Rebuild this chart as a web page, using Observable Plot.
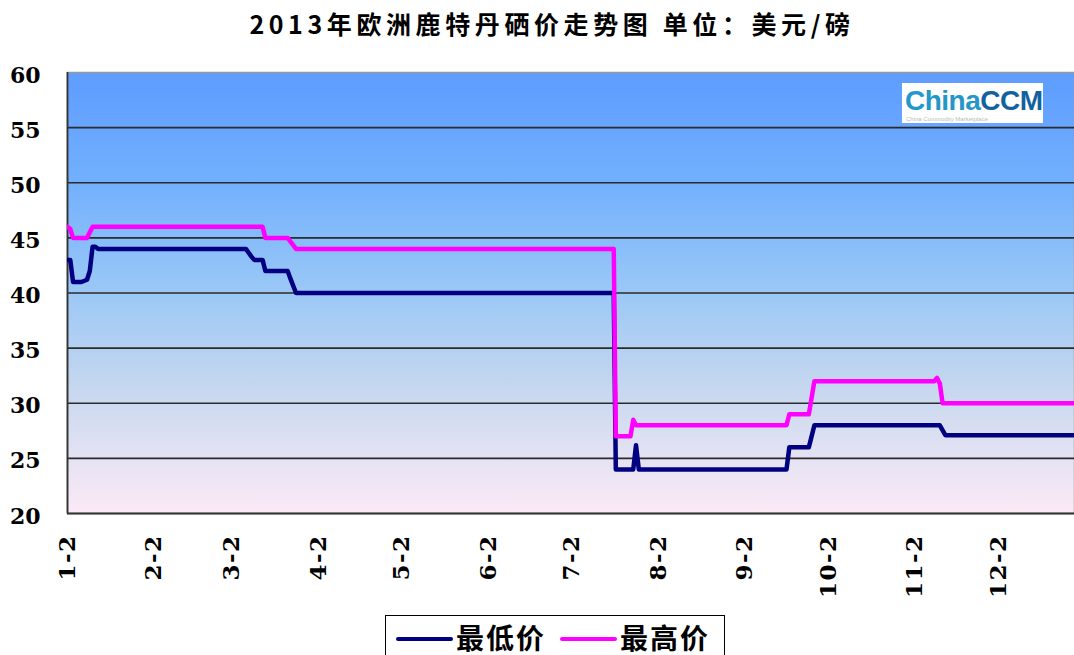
<!DOCTYPE html>
<html><head><meta charset="utf-8">
<script src="https://cdn.jsdelivr.net/npm/d3@7"></script>
<script src="https://cdn.jsdelivr.net/npm/@observablehq/plot@0.6"></script>
<style>
body{margin:0;background:#fff;width:1074px;height:655px;overflow:hidden;position:relative;font-family:"Noto Sans CJK SC",sans-serif}
#title{position:absolute;left:30px;width:1044px;top:3px;text-align:center;font-size:25px;font-weight:700;letter-spacing:4.6px;line-height:40px;color:#000}
#chart{position:absolute;left:0;top:50px}
#legend{position:absolute;left:385px;top:615px;width:340px;height:60px;border:1.5px solid #000;background:#fff;box-sizing:border-box;display:flex;align-items:flex-start;padding-left:10px;padding-top:2px}
#legend .sw{width:57px;height:4px;border-radius:2px;margin-top:19px}
#legend .lb{font-size:28px;font-weight:700;letter-spacing:2px;line-height:38px;margin-left:3px}
#logo{position:absolute;left:902px;top:83px;width:141px;height:40px;background:#fff;overflow:hidden}
#logo .t{position:absolute;left:3px;top:1px;font-family:"Liberation Sans",Arial,sans-serif;font-weight:700;font-size:28px;letter-spacing:-0.5px;line-height:34px}
#logo .s{position:absolute;left:4px;top:33px;font-family:"Liberation Sans",sans-serif;font-size:6px;color:#bbb;white-space:nowrap}
</style></head>
<body>
<div id="title">2013年欧洲鹿特丹硒价走势图 单位：美元/磅</div>
<div id="chart"></div>
<div id="logo"><div class="t"><span style="color:#2596c8">China</span><span style="color:#12629f">CCM</span></div><div class="s">China Commodity Marketplace</div></div>
<div id="legend"></div>
<script>
// ---- data ----
const monthTicks = ["2013-01-02","2013-02-02","2013-03-02","2013-04-02","2013-05-02","2013-06-02","2013-07-02","2013-08-02","2013-09-02","2013-10-02","2013-11-02","2013-12-02"];
const monthLabels = ["1-2","2-2","3-2","4-2","5-2","6-2","7-2","8-2","9-2","10-2","11-2","12-2"];
const yTicks = [20,25,30,35,40,45,50,55,60];
const seriesNames = ["最低价","最高价"];
const seriesColors = ["#000080","#FF00FF"];

const lowDates = ["2013-01-02","2013-01-03","2013-01-04","2013-01-07","2013-01-09","2013-01-10","2013-01-11","2013-01-12","2013-01-13",
  "2013-03-07","2013-03-09","2013-03-10","2013-03-13","2013-03-14","2013-03-22","2013-03-23","2013-03-25",
  "2013-07-17T00:00Z","2013-07-17T18:00Z","2013-07-24","2013-07-25","2013-07-26",
  "2013-09-17","2013-09-18","2013-09-25","2013-09-26","2013-09-27","2013-11-11","2013-11-13","2013-12-31"];
const lowValues = [43,43,41,41,41.2,42,44.2,44.2,44,
  44,43.3,43,43,42,42,41.3,40,
  40,24,24,26.2,24,
  24,26,26,27,28,28,27.1,27.1];

const highDates = ["2013-01-02","2013-01-03","2013-01-04","2013-01-09","2013-01-11",
  "2013-03-13","2013-03-14","2013-03-22","2013-03-25",
  "2013-07-17T00:00Z","2013-07-17T18:00Z","2013-07-23","2013-07-24","2013-07-25",
  "2013-09-17","2013-09-18","2013-09-25","2013-09-27","2013-11-09","2013-11-10","2013-11-11","2013-11-12","2013-12-31"];
const highValues = [46,45.8,45,45,46,
  46,45,45,44,
  44,27,27,28.5,28,
  28,29,29,32,32,32.3,31.8,30,30];

// ---- build ----
const parse = d3.isoParse;
const tickDates = monthTicks.map(parse);
const low = lowDates.map((d,i)=>({date:parse(d), value:lowValues[i]}));
const high = highDates.map((d,i)=>({date:parse(d), value:highValues[i]}));
const xStart = parse("2013-01-02");
const xEnd = new Date(Date.UTC(2013,11,29,8));
const tickShape = {draw(ctx,l){ctx.moveTo(0,0);ctx.lineTo(0,-l);}};

const plot = Plot.plot({
  width:1074, height:560, marginTop:22, marginBottom:97, marginLeft:67, marginRight:0,
  style:{background:"transparent", overflow:"visible"},
  x:{type:"utc", domain:[xStart,xEnd], axis:null},
  y:{domain:[20,60], axis:null},
  marks:[
    Plot.frame({fill:"url(#bggrad)", stroke:"#9a9a9a", strokeWidth:1.5}),
    Plot.ruleY(yTicks.filter(v=>v>20&&v<60), {stroke:"#2b2b2b", strokeWidth:1.7}),
    Plot.ruleX([xStart], {stroke:"#333", strokeWidth:1.8}),
    Plot.ruleY([20], {stroke:"#333", strokeWidth:1.8}),
    Plot.vectorY(tickDates, {x:d=>d, frameAnchor:"bottom", length:6, anchor:"start", shape:tickShape, stroke:"#333", strokeWidth:1.5}),
    Plot.vectorX([60], {y:d=>d, frameAnchor:"left", length:6, anchor:"start", rotate:90, shape:tickShape, stroke:"#333", strokeWidth:1.5}),
    Plot.text(tickDates, {x:d=>d, frameAnchor:"bottom", dy:21, rotate:-90, textAnchor:"end", lineAnchor:"middle",
      text:(d,i)=>monthLabels[i], fontSize:23, fontWeight:"bold", fontFamily:"DejaVu Serif", fill:"#000", stroke:"none"}),
    Plot.text(yTicks, {y:d=>d, frameAnchor:"left", dx:-27, dy:3, textAnchor:"end", lineAnchor:"middle",
      text:d=>String(d), fontSize:22, fontWeight:"bold", fontFamily:"DejaVu Serif", fill:"#000"}),
    Plot.line(low, {x:"date", y:"value", stroke:seriesColors[0], strokeWidth:4.5, clip:true}),
    Plot.line(high, {x:"date", y:"value", stroke:seriesColors[1], strokeWidth:4.5, clip:true})
  ]
});
const ns = "http://www.w3.org/2000/svg";
const defs = document.createElementNS(ns,"defs");
defs.innerHTML = `<linearGradient id="bggrad" x1="0" y1="0" x2="0" y2="1">
  <stop offset="0" stop-color="#5e9cff"/>
  <stop offset="0.25" stop-color="#72b0fe"/>
  <stop offset="0.5" stop-color="#9bc8f6"/>
  <stop offset="0.7" stop-color="#c3d6ef"/>
  <stop offset="0.86" stop-color="#e2e2f3"/>
  <stop offset="1" stop-color="#fce9f6"/>
</linearGradient>`;
plot.prepend(defs);
// slightly widen month labels (like the reference's bitmap font)
plot.querySelectorAll("text").forEach(t => {
  if (monthLabels.includes(t.textContent)) { t.setAttribute("letter-spacing", "1.5"); t.style.letterSpacing = "1.5px"; }
});
document.getElementById("chart").appendChild(plot);

// legend
const lg = document.getElementById("legend");
seriesNames.forEach((n,i)=>{
  const sw = document.createElement("div"); sw.className="sw"; sw.style.background=seriesColors[i];
  if(i>0) sw.style.marginLeft="14px";
  const lb = document.createElement("div"); lb.className="lb"; lb.textContent=n;
  lg.appendChild(sw); lg.appendChild(lb);
});
</script>
</body></html>
